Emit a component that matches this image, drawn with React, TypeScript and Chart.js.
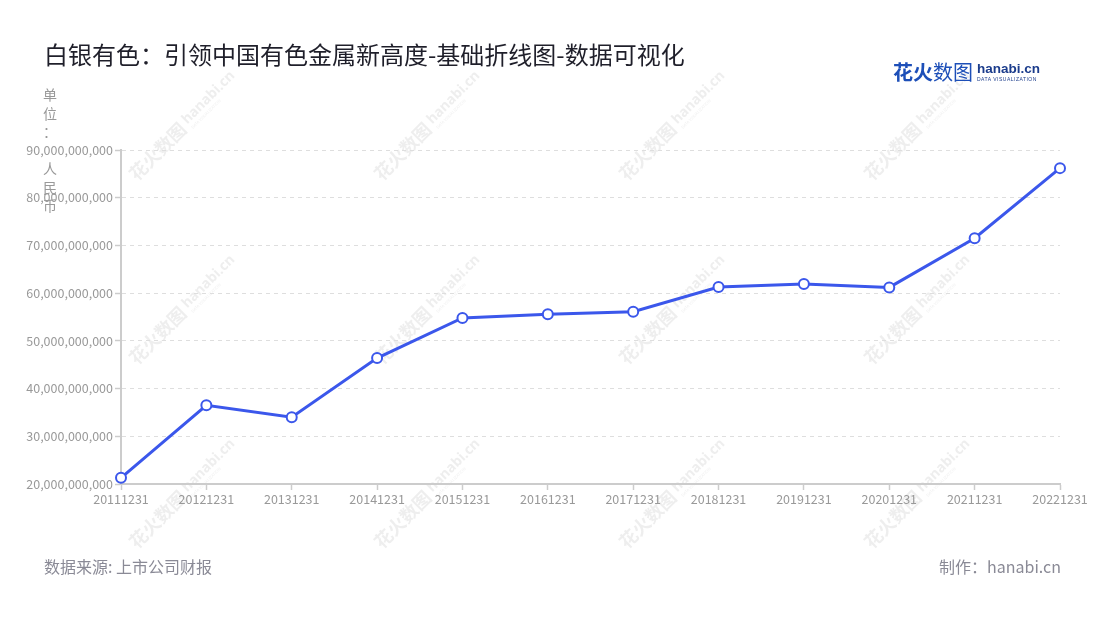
import React, { useEffect, useRef } from "react";
import Chart from "chart.js/auto";

const categories: string[] = [
  "20111231", "20121231", "20131231", "20141231", "20151231", "20161231",
  "20171231", "20181231", "20191231", "20201231", "20211231", "20221231",
];
const revenue: number[] = [
  21300000000, 36500000000, 34000000000, 46400000000, 54800000000, 55600000000,
  56100000000, 61300000000, 61900000000, 61200000000, 71500000000, 86200000000,
];
const yMin = 20000000000;
const yMax = 90000000000;
const yStep = 10000000000;

const titleText = "白银有色：引领中国有色金属新高度-基础折线图-数据可视化";
const unitChars: string[] = ["单", "位", "：", "", "人", "民", "币"];
const sourceText = "数据来源: 上市公司财报";
const makerText = "制作：hanabi.cn";

const FONT = '"Noto Sans CJK SC", "Noto Sans", sans-serif';

const watermarkPlugin = {
  id: "watermark",
  beforeDraw(chart: any) {
    const ctx = chart.ctx;
    const xs = [183, 428, 673, 918];
    const ys = [126, 310, 494];
    ctx.save();
    for (const cx of xs) {
      for (const cy of ys) {
        ctx.save();
        ctx.translate(cx, cy);
        ctx.rotate(-Math.PI / 4);
        ctx.fillStyle = "rgba(140,140,140,0.15)";
        ctx.textBaseline = "middle";
        ctx.textAlign = "left";
        ctx.font = 'bold 18px "Noto Sans CJK SC", sans-serif';
        ctx.fillText("花火数图", -72, 0);
        ctx.font = 'bold 14px "Noto Sans", sans-serif';
        ctx.fillText("hanabi.cn", 4, -2);
        ctx.font = '4px "Noto Sans", sans-serif';
        ctx.fillText("DATA VISUALIZATION", 5, 8);
        ctx.restore();
      }
    }
    ctx.restore();
  },
};

export default function App() {
  const canvasRef = useRef<HTMLCanvasElement>(null);

  useEffect(() => {
    if (!canvasRef.current) return;
    const chart = new Chart(canvasRef.current, {
      type: "line",
      data: {
        labels: categories,
        datasets: [
          {
            data: revenue,
            borderColor: "#3b57eb",
            borderWidth: 3,
            pointRadius: 5,
            pointHoverRadius: 5,
            pointBorderWidth: 2,
            pointBackgroundColor: "#ffffff",
            pointBorderColor: "#3b57eb",
            tension: 0,
            fill: false,
          },
        ],
      },
      options: {
        responsive: false,
        animation: false,
        events: [],
        layout: { padding: { top: 150, left: 0, right: 40, bottom: 106 } },
        plugins: {
          legend: { display: false },
          tooltip: { enabled: false },
          title: { display: false },
        },
        scales: {
          x: {
            offset: false,
            grid: {
              drawOnChartArea: false,
              drawTicks: true,
              tickLength: 6,
              tickColor: "#cccccc",
              tickWidth: 1.5,
            },
            border: { display: true, color: "#cccccc", width: 2 },
            ticks: {
              color: "#999999",
              font: { family: FONT, size: 12.5 },
              padding: 2,
              maxRotation: 0,
              autoSkip: false,
            },
            afterFit: (s: any) => {
              s.height = 30;
            },
          },
          y: {
            min: yMin,
            max: yMax,
            grid: {
              color: "#dedede",
              lineWidth: 1,
              tickLength: 6,
              tickColor: "#cccccc",
              tickWidth: 1.5,
              tickBorderDash: [],
              drawTicks: true,
            },
            border: { display: true, color: "#cccccc", width: 2, dash: [4, 4] },
            ticks: {
              stepSize: yStep,
              color: "#999999",
              font: { family: FONT, size: 12.5 },
              padding: 2,
              callback: (v: any) => Number(v).toLocaleString("en-US"),
            },
            afterFit: (s: any) => {
              s.width = 121;
            },
          },
        },
      },
      plugins: [watermarkPlugin],
    } as any);
    return () => chart.destroy();
  }, []);

  return (
    <div style={{ position: "absolute", left: 0, top: 0, width: 1100, height: 620, background: "#fff", fontFamily: FONT }}>
      <canvas ref={canvasRef} width={1100} height={620} style={{ position: "absolute", left: 0, top: 0, width: 1100, height: 620 }} />
      <div style={{ position: "absolute", left: 44, top: 37, fontSize: 24, lineHeight: "34px", color: "#1f1f2a", whiteSpace: "nowrap" }}>
        {titleText}
      </div>
      <div style={{ position: "absolute", left: 893, top: 60, whiteSpace: "nowrap", color: "#1d4fb8", height: 24 }}>
        <span style={{ fontSize: 20, lineHeight: "24px" }}>
          <b>花火</b>数图
        </span>
        <span style={{ position: "absolute", left: 84, top: 0, fontFamily: '"Liberation Sans", sans-serif', fontWeight: "bold", fontSize: 13.5, lineHeight: "18px", color: "#1b3c8c" }}>
          hanabi.cn
        </span>
        <span style={{ position: "absolute", left: 84, top: 16, fontFamily: '"Liberation Sans", sans-serif', fontSize: 5, lineHeight: "6px", letterSpacing: 0.5, color: "#1b3c8c" }}>
          DATA VISUALIZATION
        </span>
      </div>
      <div style={{ position: "absolute", left: 40, top: 85, width: 20, textAlign: "center", fontSize: 14, lineHeight: "18.5px", color: "#999999" }}>
        {unitChars.map((c, i) => (
          <div key={i} style={{ height: 18.5 }}>{c}</div>
        ))}
      </div>
      <div style={{ position: "absolute", left: 44, top: 554, fontSize: 16, lineHeight: "24px", color: "#8a8a96", whiteSpace: "nowrap" }}>
        {sourceText}
      </div>
      <div style={{ position: "absolute", right: 39, top: 554, fontSize: 16, lineHeight: "24px", color: "#8a8a96", whiteSpace: "nowrap" }}>
        {makerText}
      </div>
    </div>
  );
}
